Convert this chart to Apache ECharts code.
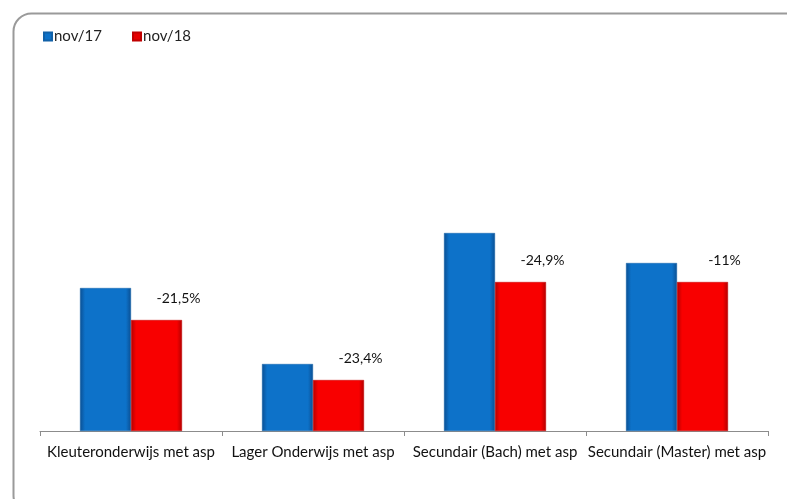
<!DOCTYPE html>
<html>
<head>
<meta charset="utf-8">
<script src="https://cdn.jsdelivr.net/npm/echarts@6/dist/echarts.min.js"></script>
<style>html,body{margin:0;padding:0;background:#fff;}#c{width:787px;height:499px;}</style>
</head>
<body>
<div id="c"></div>
<script>
var categories = ['Kleuteronderwijs met asp', 'Lager Onderwijs met asp', 'Secundair (Bach) met asp', 'Secundair (Master) met asp'];
var nov17 = [143, 67, 198, 168];
var nov18 = [111, 51, 149, 149];
var changeLabels = ['-21,5%', '-23,4%', '-24,9%', '-11%'];
var seriesNames = ['nov/17', 'nov/18'];

var FONT = 'Lato, "Open Sans", sans-serif';
function bevel(dark, mid) {
  return new echarts.graphic.LinearGradient(0, 0, 1, 0, [
    {offset: 0, color: dark}, {offset: 0.1, color: mid}, {offset: 0.9, color: mid}, {offset: 1, color: dark}
  ]);
}
var chart = echarts.init(document.getElementById('c'), null, {renderer: 'canvas'});
chart.setOption({
  animation: false,
  backgroundColor: '#fff',
  graphic: [{
    type: 'rect', left: 11, top: 11, silent: true,
    shape: {width: 840, height: 500, r: 18},
    style: {fill: 'none', stroke: '#9a9a9a', lineWidth: 2}
  }],
  legend: {
    left: 38, top: 24, itemWidth: 8, itemHeight: 8, itemGap: 30,
    icon: 'rect',
    textStyle: {fontFamily: FONT, fontSize: 15, color: '#222', padding: [0, 0, 0, -3]},
    data: [
      {name: seriesNames[0], itemStyle: {color: '#0d72c9'}},
      {name: seriesNames[1], itemStyle: {color: '#e60000'}}
    ]
  },
  grid: {left: 40, right: 19, top: 60, bottom: 68},
  xAxis: {
    type: 'category', data: categories,
    axisLine: {lineStyle: {color: '#8c8c8c', width: 1}},
    axisTick: {show: true, length: 5, lineStyle: {color: '#8c8c8c'}},
    axisLabel: {fontFamily: FONT, fontSize: 15, color: '#111', margin: 14, interval: 0}
  },
  yAxis: {
    type: 'value', min: 0, max: 371, show: false,
    splitLine: {show: false}
  },
  series: [{
    name: seriesNames[0], type: 'bar', data: nov17,
    barWidth: 51, barGap: '0%',
    itemStyle: {color: bevel('#0a4f93', '#0d72c9'), borderColor: '#1161a8', borderWidth: 0.5},
    z: 2
  }, {
    name: seriesNames[1], type: 'bar', data: nov18,
    barWidth: 51,
    itemStyle: {color: bevel('#b30000', '#f80000'), borderColor: '#c00000', borderWidth: 0.5},
    label: {
      show: true, position: 'top', offset: [22, -10],
      fontFamily: FONT, fontSize: 14, color: '#111',
      formatter: function (p) { return changeLabels[p.dataIndex]; }
    },
    z: 2
  }]
});
</script>
</body>
</html>
